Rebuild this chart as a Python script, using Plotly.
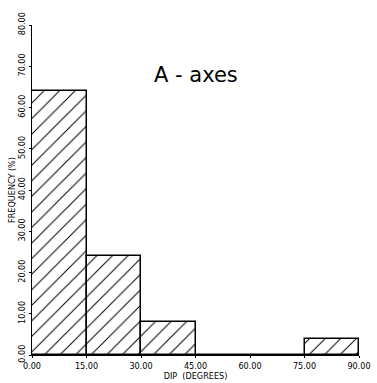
import plotly.graph_objects as go

bin_starts = [0, 15, 30, 45, 60, 75]
bin_width = 15
frequency = [64.0, 24.0, 8.0, 0.0, 0.0, 4.0]
x_ticks = [0, 15, 30, 45, 60, 75, 90]
y_ticks = [0, 10, 20, 30, 40, 50, 60, 70, 80]

centers = [b + bin_width / 2 for b in bin_starts]

fig = go.Figure()
fig.add_trace(go.Bar(
    x=centers, y=frequency, width=[bin_width] * len(centers),
    marker=dict(color="white", line=dict(color="black", width=1.5),
                pattern=dict(shape="/", size=11, solidity=0.09, fgcolor="black", bgcolor="white", fgopacity=1)),
))

tickfont = dict(family="DejaVu Sans Condensed, DejaVu Sans", size=9, color="black")
fig.update_layout(
    width=377, height=383, margin=dict(l=32, r=18, t=25, b=28),
    paper_bgcolor="white", plot_bgcolor="white", showlegend=False, bargap=0,
    xaxis=dict(range=[0, 90], tickvals=x_ticks, ticktext=[f"{v:.2f}" for v in x_ticks],
               showgrid=False, zeroline=False, showline=True, linecolor="black", linewidth=1,
               ticks="outside", ticklen=2, tickcolor="black", tickfont=tickfont, automargin=False,
               title=dict(text="DIP  (DEGREES)", font=tickfont, standoff=0)),
    yaxis=dict(range=[0, 80], tickvals=y_ticks, ticktext=[f"{v:.2f}" for v in y_ticks],
               showgrid=False, zeroline=False, showline=True, linecolor="black", linewidth=1,
               ticks="outside", ticklen=2, tickcolor="black", tickfont=tickfont, tickangle=-90,
               automargin=False,
               title=dict(text="FREQUENCY (%)", font=tickfont, standoff=0)),
    annotations=[dict(text="A - axes", x=0.5, y=0.85, xref="paper", yref="paper",
                      xanchor="center", yanchor="middle",
                      showarrow=False, font=dict(family="DejaVu Sans", size=21, color="black"))],
)
fig.write_html("out.html")
